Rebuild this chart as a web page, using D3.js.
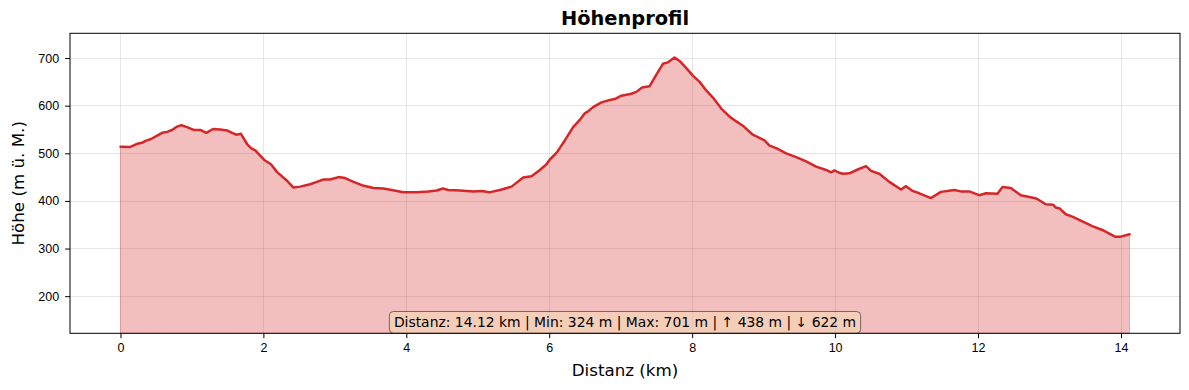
<!DOCTYPE html>
<html>
<head>
<meta charset="utf-8">
<script src="https://cdn.jsdelivr.net/npm/d3@7"></script>
<style>
	body { margin: 0; background: #fff; }
	svg { display: block; font-family: 'DejaVu Sans', sans-serif; }
	.grid line { stroke: #b0b0b0; stroke-opacity: 0.3; shape-rendering: crispEdges; }
	.axis text { font-size: 12.5px; fill: #000; }
	.axis line, .axis path { stroke: #000; }
</style>
</head>
<body>
<div id="chart"></div>
<script>
/* Data */
var distKm = [
	0, 0.13, 0.233, 0.303, 0.349, 0.429, 0.513, 0.583, 0.653, 0.722,
	0.792, 0.852, 0.932, 1.024, 1.118, 1.202, 1.295, 1.397, 1.491, 1.561,
	1.621, 1.686, 1.779, 1.826, 1.886, 1.956, 2.012, 2.106, 2.189, 2.319,
	2.421, 2.515, 2.655, 2.748, 2.841, 2.934, 3.05, 3.144, 3.26, 3.377,
	3.539, 3.679, 3.796, 3.958, 4.146, 4.308, 4.425, 4.509, 4.587, 4.751,
	4.937, 5.054, 5.16, 5.31, 5.473, 5.635, 5.752, 5.868, 5.962, 6.008,
	6.102, 6.218, 6.334, 6.427, 6.497, 6.543, 6.613, 6.731, 6.847, 6.916,
	7.01, 7.15, 7.22, 7.298, 7.405, 7.499, 7.591, 7.661, 7.754, 7.824,
	7.918, 8.01, 8.104, 8.197, 8.29, 8.407, 8.523, 8.617, 8.709, 8.849,
	9.012, 9.082, 9.176, 9.315, 9.455, 9.595, 9.734, 9.874, 9.944, 9.99,
	10.06, 10.106, 10.2, 10.316, 10.433, 10.503, 10.619, 10.759, 10.922, 10.992,
	11.084, 11.178, 11.341, 11.481, 11.667, 11.76, 11.876, 12.016, 12.11, 12.272,
	12.342, 12.459, 12.599, 12.669, 12.817, 12.948, 13.05, 13.088, 13.144, 13.228,
	13.32, 13.46, 13.599, 13.739, 13.917, 13.996, 14.12
];
var hoehe = [
	514, 513, 520, 522, 526, 530, 537, 543, 545, 549,
	556, 559, 555, 549, 549, 543, 551, 550, 548, 543,
	539, 541, 518, 511, 506, 495, 486, 477, 461, 444,
	428, 430, 435, 440, 445, 445, 450, 448, 440, 433,
	427, 426, 423, 418, 418, 420, 422, 426, 423, 422,
	420, 421, 418, 423, 430, 449, 452, 465, 477, 487,
	501, 527, 555, 570, 584, 588, 597, 607, 612, 614,
	621, 625, 629, 638, 641, 665, 688, 691, 701, 694,
	679, 663, 650, 632, 617, 594, 577, 567, 558, 539,
	527, 516, 511, 500, 492, 483, 472, 465, 460, 464,
	459, 457, 458, 466, 473, 463, 457, 440, 424, 431,
	421, 416, 406, 419, 423, 420, 420, 412, 416, 415,
	429, 427, 412, 410, 405, 393, 392, 386, 384, 372,
	367, 357, 347, 339, 325, 325, 330
];
var xTicks = [0, 2, 4, 6, 8, 10, 12, 14];
var yTicks = [200, 300, 400, 500, 600, 700];
var xDomain = [-0.706, 14.826];
var yDomain = [122, 752];

var titleText = 'Höhenprofil';
var xLabel = 'Distanz (km)';
var yLabel = 'Höhe (m ü. M.)';
var statsText = 'Distanz: 14.12 km | Min: 324 m | Max: 701 m | ↑ 438 m | ↓ 622 m';

var width = 1189;
var height = 390;
var margin = { top: 33.3, right: 9, bottom: 56.7, left: 70 };
var plotW = width - margin.left - margin.right;
var plotH = height - margin.top - margin.bottom;

var lineColor = '#d62728';

var points = distKm.map((d, i) => ({ km: d, h: hoehe[i] }));

/* Scale */
var xScale = d3.scaleLinear().domain(xDomain).range([0, plotW]);
var yScale = d3.scaleLinear().domain(yDomain).range([plotH, 0]);

/* Add SVG */
var root = d3
	.select('#chart')
	.append('svg')
	.attr('width', width)
	.attr('height', height);

var svg = root
	.append('g')
	.attr('transform', `translate(${margin.left}, ${margin.top})`);

/* Grid */
var grid = svg.append('g').attr('class', 'grid');
grid
	.selectAll('.gx')
	.data(xTicks)
	.enter()
	.append('line')
	.attr('x1', d => Math.round(xScale(d)) + 0.5)
	.attr('x2', d => Math.round(xScale(d)) + 0.5)
	.attr('y1', 0)
	.attr('y2', plotH);
grid
	.selectAll('.gy')
	.data(yTicks)
	.enter()
	.append('line')
	.attr('y1', d => Math.round(yScale(d)) + 0.5)
	.attr('y2', d => Math.round(yScale(d)) + 0.5)
	.attr('x1', 0)
	.attr('x2', plotW);

/* Area + line */
var area = d3
	.area()
	.x(d => xScale(d.km))
	.y0(yScale(yDomain[0]))
	.y1(d => yScale(d.h));

var line = d3
	.line()
	.x(d => xScale(d.km))
	.y(d => yScale(d.h));

svg
	.append('path')
	.attr('d', area(points))
	.attr('fill', lineColor)
	.attr('fill-opacity', 0.3)
	.attr('stroke', lineColor)
	.attr('stroke-opacity', 0.3)
	.attr('stroke-width', 1);

svg
	.append('path')
	.attr('d', line(points))
	.attr('fill', 'none')
	.attr('stroke', lineColor)
	.attr('stroke-width', 2.5)
	.attr('stroke-linejoin', 'round')
	.attr('stroke-linecap', 'round');

/* Axes */
var xAxis = d3.axisBottom(xScale).tickValues(xTicks).tickSize(4.9).tickPadding(4.5).tickFormat(d3.format('d'));
var yAxis = d3.axisLeft(yScale).tickValues(yTicks).tickSize(4.9).tickPadding(6).tickFormat(d3.format('d'));

svg
	.append('g')
	.attr('class', 'x axis')
	.attr('transform', `translate(0, ${plotH})`)
	.call(xAxis)
	.call(g => g.select('.domain').remove());

svg
	.append('g')
	.attr('class', 'y axis')
	.call(yAxis)
	.call(g => g.select('.domain').remove());

/* Frame */
svg
	.append('rect')
	.attr('x', 0)
	.attr('y', 0)
	.attr('width', plotW)
	.attr('height', plotH)
	.attr('fill', 'none')
	.attr('stroke', '#000')
	.attr('stroke-width', 1);

/* Stats box */
var stats = svg.append('g').attr('transform', `translate(${plotW / 2}, ${plotH - 11})`);
var statsLabel = stats
	.append('text')
	.attr('text-anchor', 'middle')
	.attr('dy', '0.35em')
	.style('font-size', '13.9px')
	.text(statsText);
var bb = statsLabel.node().getBBox();
stats
	.insert('rect', 'text')
	.attr('x', bb.x - 4.5)
	.attr('y', -10.8)
	.attr('width', bb.width + 9)
	.attr('height', 21.6)
	.attr('rx', 4)
	.attr('fill', 'wheat')
	.attr('fill-opacity', 0.5)
	.attr('stroke', '#000')
	.attr('stroke-opacity', 0.5)
	.attr('stroke-width', 1);

/* Labels */
root
	.append('text')
	.attr('x', margin.left + plotW / 2)
	.attr('y', 18)
	.attr('dy', '0.35em')
	.attr('text-anchor', 'middle')
	.style('font-size', '19.4px')
	.style('font-weight', 'bold')
	.text(titleText);

root
	.append('text')
	.attr('x', margin.left + plotW / 2)
	.attr('y', 370)
	.attr('dy', '0.35em')
	.attr('text-anchor', 'middle')
	.style('font-size', '16.7px')
	.text(xLabel);

root
	.append('text')
	.attr('transform', `translate(18, ${margin.top + plotH / 2}) rotate(-90)`)
	.attr('dy', '0.35em')
	.attr('text-anchor', 'middle')
	.style('font-size', '16.7px')
	.text(yLabel);
</script>
</body>
</html>
